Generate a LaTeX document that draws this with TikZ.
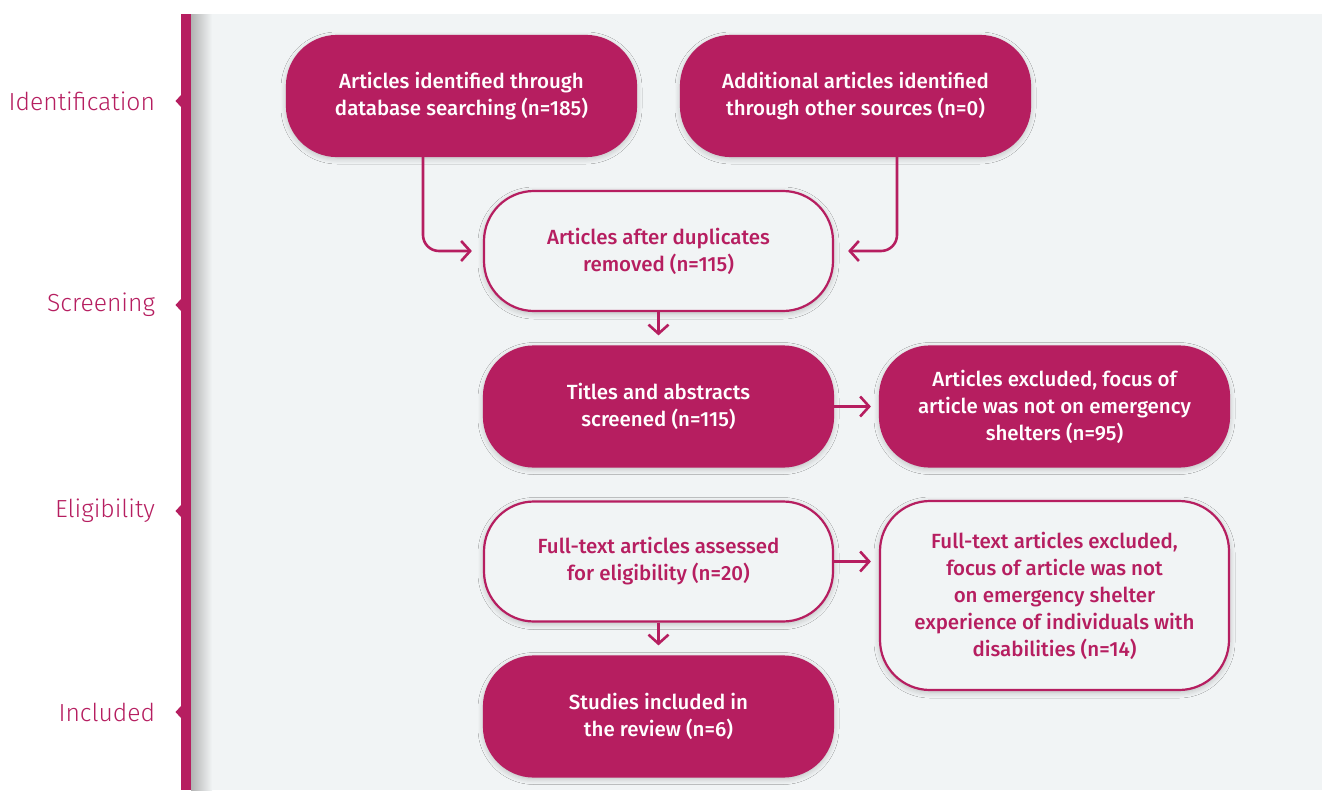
\documentclass[tikz,border=0pt]{standalone}
\usepackage{fontspec}
\setmainfont{Fira Sans}
\newfontfamily\boxfont{Fira Sans Medium}
\newfontfamily\lblfont{Fira Sans Light}
\usetikzlibrary{arrows.meta,calc,shadows.blur}
\definecolor{mag}{RGB}{182,30,96}
\definecolor{bgc}{RGB}{241,244,245}
\tikzset{
  boxbase/.style={minimum width=349pt, minimum height=120pt, inner sep=0pt,
    rounded corners=50pt, align=center, line width=2.2pt, draw=mag,
    font=\boxfont\fontsize{20.5}{27}\selectfont,
    blur shadow={shadow blur steps=6, shadow xshift=0pt, shadow yshift=-2pt, shadow opacity=25, shadow blur radius=6pt}},
  filled/.style={boxbase, fill=mag, text=white},
  hollow/.style={boxbase, fill=bgc, text=mag},
  arr/.style={draw=mag, line width=2.6pt, -{Straight Barb[length=9pt,width=20pt,line width=2.6pt]}},
  stage/.style={anchor=east, text=mag, font=\lblfont\fontsize{24.7}{28}\selectfont},
  marker/.style={fill=mag}
}
\begin{document}
\begin{tikzpicture}[x=1pt,y=-1pt]
\useasboundingbox (0,0) rectangle (1322,790);
\fill[white] (0,0) rectangle (1322,790);
\fill[bgc] (191,14) rectangle (1322,790);
\shade[left color=black!30, right color=bgc] (191,14) rectangle (212,790);
\fill[mag] (181,14) rectangle (191,790);
% stage labels
\foreach \yy/\nm/\txt in {101/lid/Identification, 305/lsc/Screening, 511/lel/Eligibility, 712/lin/Included}{
  \fill[marker] (181,\yy-6) -- (175.5,\yy) -- (181,\yy+6) -- cycle;
  \node[stage] (\nm) at (158.5,\yy) {\txt};
}
% boxes
\node[filled] (b1) at (461.5,96) {Articles identified through\\database searching (n=185)};
\node[filled] (b2) at (855.5,96) {Additional articles identified\\through other sources (n=0)};
\node[hollow] (b3) at (658.5,251) {Articles after duplicates\\removed (n=115)};
\node[filled] (b4) at (658.5,406.5) {Titles and abstracts\\screened (n=115)};
\node[filled] (b5) at (1054.5,406.5) {Articles excluded, focus of\\article was not on emergency\\shelters (n=95)};
\node[hollow] (b6) at (658.5,561.5) {Full-text articles assessed\\for eligibility (n=20)};
\node[hollow, minimum height=189pt] (b7) at (1054.5,595.5) {Full-text articles excluded,\\focus of article was not\\on emergency shelter\\experience of individuals with\\disabilities (n=14)};
\node[filled] (b8) at (658.5,716.5) {Studies included in\\the review (n=6)};
% connectors
\draw[arr, rounded corners=16pt] ($(b1.south)+(-38.5,0)$) |- ($(b3.west)+(-11,0)$);
\draw[arr, rounded corners=16pt] ($(b2.south)+(41.5,0)$) |- ($(b3.east)+(14,0)$);
\draw[arr, shorten >=10pt] (b3.south) -- (b4.north);
\draw[arr, shorten >=8pt] (b4.east) -- (b5.west);
\draw[arr, shorten >=8pt] (b6.east) -- (b6.east -| b7.west);
\draw[arr, shorten >=10pt] (b6.south) -- (b8.north);
\end{tikzpicture}
\end{document}
